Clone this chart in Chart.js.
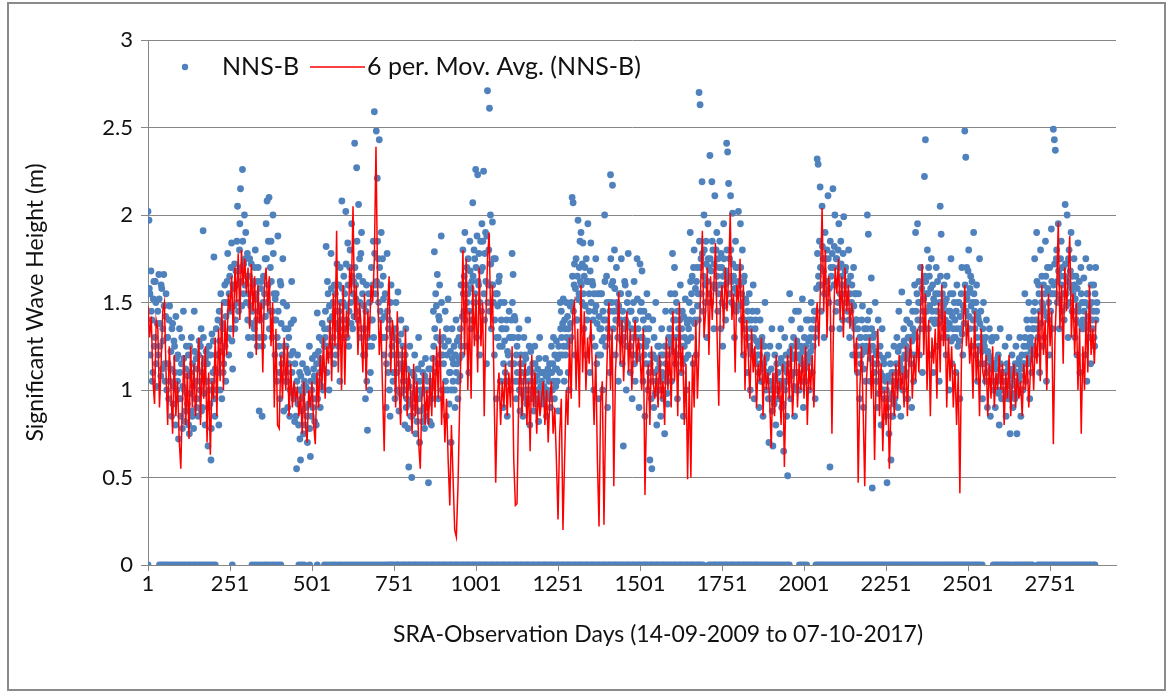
<!DOCTYPE html>
<html><head><meta charset="utf-8">
<script src="https://cdn.jsdelivr.net/npm/chart.js@4/dist/chart.umd.min.js"></script>
<style>html,body{margin:0;padding:0;background:#fff;}#wrap{position:relative;width:1173px;height:694px;}</style>
</head><body><div id="wrap"><canvas id="c" width="1173" height="694"></canvas></div>
<script>
// ---- data ----
const seriesNames = ['NNS-B', '6 per. Mov. Avg. (NNS-B)'];
const xTitle = 'SRA-Observation Days (14-09-2009 to 07-10-2017)';
const yTitle = 'Significant Wave Height (m)';
const xTickLabels = [1, 251, 501, 751, 1001, 1251, 1501, 1751, 2001, 2251, 2501, 2751];
const yTickValues = [0, 0.5, 1, 1.5, 2, 2.5, 3];
const xAxisEnd = 2952;
const nnsStep = 3;   // readings listed every 3 observation days
const maStep = 5;    // moving-average read every 5 observation days

// NNS-B readings on days 1, 4, 7, ...
const nnsB = [
2.02,1.97,1.55,1.68,1.40,1.10,1.62,1.30,1.50,1.02,
1.45,1.66,1.25,1.08,1.58,1.35,1.66,1.15,1.42,1.00,
1.30,0.95,1.48,1.12,0.85,1.38,1.02,1.25,0.80,1.18,
1.05,0.72,1.35,0.95,1.15,0.78,1.45,1.00,0.88,1.25,
0.92,1.20,0.75,1.10,1.30,0.85,1.02,1.45,0.95,1.18,
1.12,0.85,1.28,1.00,1.35,0.90,1.91,1.15,0.80,1.22,
1.05,0.68,1.25,0.92,0.60,1.32,1.10,1.76,0.85,1.20,
1.00,1.40,0.80,1.28,1.55,0.95,1.35,1.15,1.60,1.05,
1.50,1.78,1.20,1.65,1.35,1.84,1.12,1.58,1.72,1.40,
1.60,2.05,1.45,1.80,2.15,1.70,2.26,1.55,2.00,1.75,
1.50,1.78,1.30,1.65,1.20,1.72,1.45,1.62,1.35,1.80,
1.55,1.25,1.70,0.88,1.40,1.62,0.85,1.50,1.30,1.75,
1.95,2.08,1.60,2.10,1.45,1.85,1.30,2.00,1.55,1.20,
1.40,1.05,1.88,1.25,0.95,1.60,1.15,1.75,0.88,1.35,
1.10,1.48,0.90,1.30,0.85,1.20,1.62,0.98,1.40,0.82,
1.00,0.55,1.20,0.80,1.10,0.60,0.95,1.15,0.75,1.05,
0.90,1.12,0.70,1.00,1.25,0.62,0.85,1.18,0.95,1.08,
1.20,0.80,1.44,1.05,1.30,0.90,1.15,1.38,1.00,1.25,
1.30,1.82,1.10,1.55,1.00,1.40,1.78,1.25,1.50,1.15,
1.45,1.20,1.72,1.35,1.60,1.05,1.50,2.08,1.30,1.65,
1.55,2.02,1.40,1.84,1.25,1.70,1.50,1.95,1.35,1.62,
2.41,1.60,2.27,1.45,2.06,1.75,1.30,1.90,1.55,1.20,
1.35,0.95,1.60,0.77,1.25,1.50,1.10,1.70,1.40,1.85,
2.59,1.60,2.48,2.21,1.75,2.43,1.45,1.90,1.30,1.65,
1.20,1.55,0.90,1.78,1.10,1.40,0.85,1.60,1.25,1.05,
1.30,0.95,1.50,1.10,1.56,0.88,1.20,1.40,1.00,1.25,
1.15,0.80,1.35,0.95,1.05,0.56,1.25,0.85,0.50,1.10,
0.95,1.20,0.75,1.05,0.88,1.30,0.70,1.00,1.15,0.82,
1.00,0.78,1.18,0.90,1.05,0.47,0.95,1.12,0.80,1.02,
1.45,1.79,1.10,1.48,1.66,0.95,1.40,1.20,1.88,1.00,
1.30,1.00,1.45,0.85,1.20,1.52,0.92,1.10,0.70,1.35,
1.05,1.25,0.90,1.40,1.15,0.95,1.30,1.08,1.60,1.20,
1.80,1.45,1.90,1.25,1.70,1.55,1.10,1.85,1.35,1.62,
2.07,1.50,1.75,2.26,1.30,2.23,1.60,1.20,1.85,1.45,
1.70,2.25,1.40,1.90,1.15,2.71,1.60,2.61,2.00,1.35,
1.96,1.50,1.20,1.75,0.95,1.55,1.30,1.65,1.05,1.40,
1.25,0.90,1.50,1.10,1.35,0.85,1.20,1.45,1.00,1.30,
1.78,1.66,1.15,1.40,0.95,1.25,1.05,1.35,0.88,1.20,
1.10,0.85,1.30,1.00,1.18,0.92,1.40,1.05,0.80,1.22,
1.00,1.15,0.88,1.25,1.05,0.95,1.12,0.82,1.30,1.02,
1.05,0.92,1.10,1.00,1.18,0.85,1.08,0.98,1.15,0.90,
1.25,1.00,1.30,0.95,1.12,1.28,1.05,0.88,1.20,1.50,
1.45,1.20,1.52,1.05,1.35,1.50,1.25,1.10,1.00,1.48,
1.30,2.10,2.07,1.60,1.20,1.75,1.40,1.97,1.55,1.85,
1.90,1.50,1.84,1.35,1.70,1.20,1.62,1.95,1.45,1.10,
1.84,1.30,1.60,1.00,1.45,1.75,1.15,1.55,0.95,1.35,
1.20,1.55,1.00,1.40,2.00,1.25,1.65,0.90,1.50,1.10,
2.23,1.60,2.17,1.35,1.80,1.20,1.70,1.45,1.05,1.55,
1.40,1.75,1.15,0.68,1.30,1.60,1.00,1.50,1.78,1.25,
1.10,1.45,0.95,1.30,1.62,1.05,1.20,1.75,1.35,0.90,
1.72,1.30,1.68,1.05,1.45,0.85,1.25,1.55,1.00,1.35,
0.60,1.20,0.55,1.40,0.90,1.10,1.50,0.80,1.25,1.00,
1.15,0.85,1.35,1.00,1.20,0.75,1.45,1.05,0.92,1.30,
1.25,1.55,1.05,1.78,1.40,1.70,1.15,1.50,0.95,1.35,
1.30,1.60,1.10,1.45,0.85,1.25,1.52,1.00,1.38,1.20,
1.50,1.90,1.30,1.65,1.15,1.80,1.40,1.20,1.70,1.55,
2.70,2.63,1.75,2.19,1.45,2.00,1.60,1.85,1.30,1.95,
1.70,2.34,1.50,2.19,1.80,1.35,2.11,1.60,1.90,1.45,
1.55,1.85,1.35,1.70,1.25,1.95,1.60,1.40,2.41,2.36,
2.18,1.75,2.11,1.50,2.01,1.65,1.30,1.85,1.45,1.70,
2.02,1.60,1.95,1.40,1.80,1.20,1.65,1.35,1.50,1.10,
1.30,1.55,1.00,1.40,1.20,1.60,0.95,1.35,1.15,1.45,
1.25,0.90,1.40,1.05,1.30,0.85,1.15,1.50,1.00,1.20,
1.10,0.70,1.25,0.95,1.35,0.68,1.05,1.20,0.80,1.15,
1.00,1.25,0.75,1.35,0.90,1.15,0.65,1.30,1.05,0.85,
0.51,1.20,1.55,0.95,1.40,1.10,1.30,0.85,1.45,1.00,
1.25,1.45,1.00,1.35,1.15,1.52,0.90,1.30,1.05,1.40,
1.20,1.40,1.00,1.30,1.50,1.10,1.25,1.45,0.95,1.35,
2.32,2.29,1.60,2.16,1.45,2.05,1.75,1.30,1.90,1.55,
1.80,2.11,1.50,0.56,1.70,1.35,2.15,1.60,2.00,1.45,
1.75,1.50,1.95,1.35,1.85,1.60,1.40,1.99,1.55,1.70,
1.60,1.45,1.80,1.30,1.65,1.50,1.20,1.70,1.35,1.55,
1.40,1.10,1.55,0.95,1.30,1.20,1.48,0.90,1.35,1.05,
1.25,2.00,1.89,1.45,1.05,1.64,0.44,1.30,1.10,1.50,
1.20,0.90,1.40,1.05,1.25,0.80,1.35,1.00,1.15,0.85,
0.95,0.47,1.20,0.75,1.05,0.60,1.10,0.85,1.25,0.95,
1.05,1.30,0.90,1.45,1.15,0.85,1.56,1.00,1.35,1.20,
1.10,1.40,0.95,1.50,1.20,1.30,0.90,1.45,1.05,1.60,
1.90,1.30,1.95,1.50,1.20,1.70,1.40,1.10,1.62,2.22,
2.43,1.55,1.80,1.35,1.65,1.20,1.75,1.45,1.10,1.50,
1.40,1.70,1.25,1.55,1.05,2.05,1.89,1.45,1.30,1.60,
1.50,1.20,1.65,1.35,1.00,1.45,1.75,1.15,1.55,1.30,
1.40,1.10,1.60,1.25,1.50,0.95,1.35,1.70,1.20,1.45,
2.48,2.33,1.70,1.55,1.80,1.35,1.65,1.25,1.50,1.90,
1.45,1.20,1.60,1.05,1.40,1.75,1.15,1.30,0.95,1.50,
1.25,1.05,1.40,0.90,1.20,1.35,0.85,1.15,1.30,1.00,
1.15,0.90,1.30,1.05,1.20,0.80,1.35,1.00,1.10,0.95,
1.05,1.25,0.85,1.15,0.95,1.30,0.75,1.10,1.20,0.90,
1.10,0.95,1.25,0.75,1.15,1.05,1.30,0.85,1.20,1.00,
1.25,1.55,1.05,1.40,1.15,1.50,0.95,1.30,1.10,1.35,
1.45,1.75,1.20,1.90,1.35,1.60,1.10,1.80,1.50,1.25,
1.60,1.30,1.85,1.05,1.70,1.40,1.20,1.55,1.92,1.35,
2.49,2.43,2.37,1.75,1.50,1.95,1.35,1.65,1.85,1.45,
1.70,1.40,2.06,1.55,2.00,1.30,1.80,1.60,1.90,1.45,
1.55,1.75,1.30,1.65,1.20,1.84,1.45,1.10,1.70,1.35,
1.40,1.64,1.20,1.75,1.05,1.55,1.30,1.70,1.15,1.50,
1.35,1.60,1.25,1.70,1.45
];

// NNS-B readings on days 2, 5, 8, ...
const nnsBMid = [
1.35,1.58,1.20,1.45,1.05,1.52,1.25,1.62,1.15,1.38,
1.20,1.52,1.38,1.60,1.12,1.28,1.48,1.05,1.55,1.30,
1.15,1.40,1.05,1.22,1.35,0.92,1.28,1.10,1.42,1.00,
1.20,0.95,1.10,0.85,1.30,1.02,1.18,0.82,1.12,0.98,
1.08,0.80,1.25,0.98,0.88,1.15,0.78,1.22,1.05,0.90,
0.95,1.20,1.05,1.25,0.88,1.10,1.30,0.98,1.18,1.05,
1.15,0.90,1.00,1.20,0.78,1.05,1.28,0.95,1.12,1.35,
1.20,1.10,1.45,1.00,1.22,1.38,1.10,1.50,1.25,1.42,
1.62,1.30,1.55,1.45,1.70,1.28,1.60,1.48,1.35,1.68,
1.85,1.50,1.68,1.95,1.62,1.48,1.85,1.72,1.60,1.90,
1.65,1.40,1.55,1.75,1.48,1.38,1.60,1.30,1.70,1.52,
1.40,1.62,1.45,1.30,1.58,1.48,1.25,1.65,1.55,1.42,
1.75,1.50,1.85,1.35,1.70,1.62,1.45,1.78,1.40,1.52,
1.55,1.30,1.45,1.10,1.62,1.38,1.20,1.50,1.25,1.05,
1.25,1.05,1.35,1.15,1.00,1.38,1.10,1.22,0.95,1.15,
0.85,1.05,0.92,1.00,0.72,1.08,0.88,0.98,1.02,0.80,
1.02,0.85,1.10,0.92,0.78,1.05,1.00,0.90,1.12,0.82,
1.05,1.15,0.95,1.22,1.10,1.18,1.02,1.28,1.12,1.35,
1.45,1.25,1.62,1.35,1.48,1.20,1.58,1.42,1.30,1.60,
1.55,1.38,1.60,1.25,1.45,1.70,1.40,1.58,1.50,1.35,
1.48,1.72,1.30,1.60,1.45,1.80,1.38,1.65,1.55,1.42,
1.70,1.52,1.85,1.40,1.65,1.50,1.78,1.35,1.62,1.48,
1.20,1.45,1.05,1.30,1.55,1.00,1.40,1.25,1.60,1.30,
1.78,1.55,1.62,1.85,1.50,1.70,1.60,1.40,1.75,1.52,
1.42,1.30,1.15,1.45,1.35,1.00,1.50,1.20,1.32,1.10,
1.10,1.35,1.20,1.00,1.28,1.15,0.98,1.32,1.12,1.05,
1.00,1.20,0.90,1.12,0.78,1.02,0.92,1.10,0.85,0.98,
1.08,0.90,1.00,0.82,1.12,0.95,1.05,0.88,0.98,1.10,
0.90,1.08,0.85,1.00,0.92,1.12,0.82,1.05,0.95,1.18,
1.25,1.35,1.55,1.30,1.15,1.42,1.60,1.28,1.50,1.20,
1.15,1.25,1.05,1.35,1.00,1.28,1.10,1.22,1.00,1.18,
1.15,1.00,1.20,1.10,1.28,1.05,1.18,1.35,1.25,1.42,
1.55,1.65,1.40,1.60,1.50,1.75,1.45,1.68,1.58,1.40,
1.65,1.80,1.55,1.70,1.88,1.62,1.78,1.50,1.68,1.95,
1.85,1.55,1.78,1.62,1.88,1.50,1.80,1.45,1.72,1.60,
1.60,1.75,1.40,1.55,1.30,1.48,1.62,1.25,1.50,1.35,
1.35,1.15,1.28,1.05,1.40,1.22,1.05,1.30,1.15,1.40,
1.50,1.30,1.42,1.05,1.20,1.10,1.30,1.00,1.15,1.05,
0.98,1.15,1.05,1.20,0.95,1.10,1.00,1.25,1.12,0.95,
1.10,0.98,1.05,1.15,0.92,1.08,1.00,1.18,0.95,1.10,
0.98,1.10,1.02,0.95,1.08,1.00,1.12,1.05,0.95,1.10,
1.10,1.15,1.05,1.20,1.02,1.12,1.18,1.25,1.10,1.35,
1.30,1.38,1.25,1.40,1.20,1.30,1.42,1.35,1.28,1.38,
1.50,1.65,1.45,1.72,1.58,1.40,1.65,1.52,1.70,1.62,
1.60,1.72,1.55,1.65,1.48,1.75,1.40,1.62,1.55,1.68,
1.50,1.62,1.40,1.55,1.25,1.48,1.38,1.20,1.42,1.55,
1.35,1.28,1.45,1.30,1.62,1.40,1.50,1.35,1.30,1.45,
1.75,1.50,1.62,1.45,1.58,1.40,1.50,1.30,1.48,1.38,
1.55,1.28,1.45,1.35,1.62,1.40,1.25,1.38,1.55,1.45,
1.25,1.35,1.20,1.50,1.15,1.40,1.30,1.52,1.18,1.25,
1.45,1.50,1.30,1.40,1.20,1.35,1.15,1.28,1.42,1.10,
1.15,0.95,1.05,1.20,1.30,0.98,1.18,1.05,1.12,1.25,
1.05,1.20,1.10,0.95,1.08,1.25,1.15,0.98,1.20,1.10,
1.35,1.28,1.45,1.30,1.22,1.55,1.40,1.30,1.45,1.20,
1.40,1.25,1.35,1.15,1.42,1.30,1.18,1.40,1.28,1.35,
1.40,1.62,1.55,1.45,1.70,1.38,1.58,1.62,1.48,1.40,
1.85,1.70,1.55,1.78,1.65,1.80,1.50,1.72,1.62,1.75,
1.55,1.75,1.68,1.85,1.60,1.72,1.58,1.80,1.65,1.75,
1.70,1.60,1.78,1.50,1.65,1.75,1.48,1.68,1.80,1.62,
1.65,1.55,1.80,1.62,1.72,1.48,1.58,1.70,1.55,1.62,
1.60,1.48,1.70,1.55,1.50,1.62,1.40,1.52,1.30,1.45,
1.40,1.25,1.35,1.22,1.45,1.30,1.18,1.40,1.28,1.20,
1.10,1.20,1.15,1.28,1.05,1.12,1.25,1.08,1.18,1.10,
0.95,1.05,1.00,1.12,0.88,1.02,0.92,1.08,1.00,0.95,
1.10,0.95,1.05,1.18,1.02,0.92,1.12,1.00,1.20,1.10,
1.05,1.15,1.22,1.08,1.25,1.18,1.02,1.20,1.10,1.28,
1.10,1.20,1.18,1.25,1.05,1.22,1.15,1.12,1.25,1.18,
1.15,1.28,1.18,1.22,1.35,1.25,1.40,1.30,1.45,1.58,
1.78,1.65,1.85,1.70,1.60,1.82,1.68,1.55,1.75,1.62,
1.62,1.75,1.58,1.85,1.65,1.78,1.70,1.82,1.60,1.75,
1.62,1.80,1.70,1.55,1.72,1.65,1.78,1.60,1.68,1.50,
1.50,1.62,1.40,1.55,1.45,1.60,1.38,1.48,1.55,1.40,
1.25,1.35,1.20,1.30,1.15,1.40,1.25,1.12,1.22,1.30,
1.35,1.40,1.22,1.30,1.18,1.35,1.25,1.15,1.32,1.22,
1.05,1.15,0.98,1.20,1.10,1.00,1.08,1.18,0.95,1.05,
1.00,0.90,1.08,0.95,1.15,0.85,0.98,1.05,0.92,1.10,
1.15,1.02,1.22,1.10,1.25,1.05,1.18,1.12,1.28,1.08,
1.25,1.18,1.30,1.22,1.38,1.15,1.28,1.35,1.20,1.32,
1.45,1.55,1.40,1.62,1.50,1.35,1.58,1.45,1.52,1.65,
1.62,1.45,1.55,1.70,1.48,1.58,1.40,1.60,1.52,1.38,
1.55,1.45,1.62,1.38,1.50,1.65,1.42,1.55,1.48,1.35,
1.40,1.52,1.30,1.45,1.38,1.55,1.28,1.42,1.35,1.50,
1.30,1.45,1.35,1.50,1.28,1.42,1.55,1.32,1.48,1.38,
1.60,1.45,1.52,1.68,1.42,1.58,1.48,1.62,1.40,1.55,
1.35,1.50,1.30,1.42,1.25,1.38,1.45,1.22,1.35,1.28,
1.15,1.30,1.10,1.22,1.05,1.18,1.12,1.28,1.05,1.15,
1.05,1.12,1.00,1.18,0.98,1.08,1.15,0.95,1.05,1.10,
1.00,1.10,0.98,1.05,1.12,0.95,1.02,1.08,0.98,1.12,
1.05,1.15,1.02,1.10,0.98,1.18,1.08,1.12,1.00,1.15,
1.15,1.30,1.20,1.25,1.35,1.18,1.28,1.22,1.40,1.25,
1.35,1.50,1.40,1.62,1.30,1.55,1.45,1.38,1.65,1.48,
1.45,1.55,1.65,1.42,1.58,1.50,1.70,1.45,1.62,1.55,
1.60,1.72,1.55,1.80,1.62,1.68,1.52,1.75,1.60,1.70,
1.55,1.65,1.72,1.48,1.62,1.75,1.50,1.68,1.58,1.65,
1.45,1.60,1.52,1.40,1.58,1.48,1.62,1.38,1.55,1.50,
1.35,1.45,1.50,1.38,1.55,1.42,1.48,1.35,1.60,1.40,
1.45,1.30,1.55,1.40,1.50
];

// days on which NNS-B recorded 0
const zeroDays = [
1,36,43,50,57,64,71,79,86,94,101,109,116,124,131,139,146,154,161,169,176,184,191,199,206,258,
318,327,336,346,356,364,372,381,389,398,406,461,469,477,494,517,539,547,556,565,573,582,590,599,
607,616,624,633,641,650,658,667,675,684,692,701,709,718,726,
733,739,744,750,757,762,768,775,780,786,793,798,804,811,816,822,829,834,840,847,852,858,865,870,
876,883,888,894,901,906,912,919,924,930,937,942,948,955,960,966,973,978,984,991,996,1002,1009,
1014,1020,1027,1032,1038,1045,1050,1056,1063,1068,1074,1081,1086,1092,1099,1104,1110,1117,1122,
1128,1135,1140,1146,1153,1158,1164,1171,1176,1182,1189,1194,1200,1207,1212,1218,1225,1230,1236,
1243,1248,1254,1261,1266,1272,1279,1284,1290,1297,1302,1308,1315,1320,1326,1333,1338,1344,1351,
1356,1362,1369,1374,1380,1387,1392,1398,1405,1410,1416,1423,1428,1434,1441,1446,1452,1459,1464,
1470,1477,1482,1488,1495,1500,1506,1513,1518,1524,1531,1536,1542,1549,1554,1560,1567,1572,1578,
1585,1590,1596,1603,1608,1614,1621,1626,1632,1639,1644,1650,1657,1662,1668,1675,1680,1686,1693,
1711,1717,1724,1729,1735,1742,1747,1753,1760,1765,1771,1778,1783,1789,1796,1801,1807,1814,1819,
1825,1832,1837,1843,1850,1855,1861,1868,1875,1882,1889,1896,1903,1911,1918,1926,1934,1941,1949,
1956,1987,1994,2001,2009,2037,2044,2050,2057,2063,2070,2076,2083,2089,2096,2102,2109,2115,2122,
2128,2135,2141,2148,2154,2161,2167,2174,2180,2187,2193,2200,2206,2213,2219,2226,2232,2239,2245,
2251,2258,2264,2271,2277,2284,2290,2297,2303,2310,2316,2323,2329,2336,2342,2349,2355,2362,2368,
2375,2381,2388,2394,2401,2407,2414,2420,2427,2433,2440,2446,2453,2459,2466,2472,2479,2485,2492,
2498,2505,2511,2518,2524,2531,2537,2544,2578,2585,2591,2598,2604,2611,2617,2624,2630,2639,2646,
2652,2659,2665,2672,2678,2685,2691,2697,2714,2720,2727,2733,2740,2746,2753,2759,2766,2772,2779,
2785,2792,2798,2805,2811,2818,2824,2831,2837,2844,2850,2857,2863,2870,2876,2883,2888
];

// 6-period moving average, read every 5 days from day 1
const movAvg = [
1.48,1.30,1.42,1.05,0.92,1.40,1.35,0.90,1.15,1.45,
1.50,1.10,0.80,1.25,1.00,0.75,1.20,0.85,1.05,0.72,
0.55,0.95,1.20,0.80,1.10,0.72,1.25,0.90,1.15,0.85,
1.05,1.30,0.80,1.20,0.95,1.25,0.70,1.10,0.63,1.05,
0.95,1.30,0.85,1.35,1.05,1.50,1.00,1.40,1.20,1.55,
1.45,1.65,1.30,1.70,1.50,1.78,1.40,1.80,1.60,1.75,
1.55,1.70,1.35,1.72,1.45,1.65,1.20,1.60,1.38,1.50,
1.10,1.60,1.70,1.45,1.65,1.25,1.50,0.90,1.35,0.80,
0.78,1.20,0.95,1.30,1.00,1.25,0.85,1.15,0.90,1.05,
0.95,1.00,0.85,0.98,0.75,1.05,0.80,0.70,1.00,0.90,
1.05,0.80,0.69,1.10,0.90,1.20,1.00,1.30,0.95,1.25,
1.15,1.40,1.05,1.55,1.25,1.91,1.10,1.50,1.00,1.60,
1.03,1.45,1.30,1.70,1.55,2.05,1.40,1.60,1.20,1.50,
1.35,1.10,1.55,1.00,1.45,1.30,1.60,1.50,1.75,2.39,
1.60,1.20,1.40,1.00,0.65,1.15,1.45,1.65,1.10,1.40,
1.30,0.90,1.45,1.05,0.80,1.25,0.95,1.35,0.85,1.10,
1.00,0.75,1.15,0.85,1.05,0.70,0.55,0.95,1.10,0.80,
1.00,0.80,1.10,0.85,1.20,0.90,1.25,0.95,1.35,0.80,
1.05,0.70,0.95,0.60,0.34,0.80,0.50,0.20,0.16,0.45,
0.90,1.30,1.80,1.20,1.75,1.00,1.45,0.95,1.60,1.25,
1.55,1.10,1.70,1.25,1.50,0.85,1.40,1.75,1.90,1.35,
1.60,1.00,0.47,0.95,1.10,0.80,1.05,0.90,1.15,0.85,
1.10,0.90,1.25,0.60,0.34,0.35,0.95,1.20,0.85,1.05,
1.15,0.80,1.05,0.65,1.20,0.90,1.10,0.75,1.00,0.85,
0.95,1.05,0.80,1.00,0.70,0.95,1.05,0.75,0.90,0.60,
0.26,0.75,0.95,0.20,0.60,1.00,0.80,1.30,0.95,1.45,
1.50,1.00,1.35,0.90,1.60,1.10,1.45,1.00,1.30,1.15,
1.40,1.10,0.80,1.20,0.60,0.22,0.95,1.05,0.23,0.85,
1.20,1.50,1.00,1.35,0.45,1.10,1.30,1.56,1.15,1.40,
1.05,1.30,1.45,1.10,1.35,1.00,1.25,1.40,1.15,1.30,
1.20,1.00,1.35,0.40,0.90,1.15,0.80,1.25,1.05,0.95,
1.10,0.90,1.20,0.95,1.05,0.80,1.30,1.00,1.25,0.90,
1.45,1.05,1.30,0.85,1.50,1.10,1.25,0.80,1.15,0.49,
1.05,0.50,1.20,0.90,1.40,0.95,1.25,1.60,1.91,1.30,
1.45,1.70,1.20,1.65,1.40,1.60,1.84,1.30,0.91,1.50,
1.60,1.35,1.70,1.45,1.65,2.01,1.40,1.55,1.10,1.60,
1.50,1.75,1.20,1.60,1.00,1.40,1.20,0.95,1.35,1.10,
1.25,0.90,1.15,1.05,1.30,0.85,1.20,1.00,1.10,0.95,
0.67,1.10,0.85,1.20,0.95,1.05,0.80,1.15,0.56,1.00,
1.20,0.95,1.25,0.85,1.10,1.30,0.90,1.15,1.00,1.20,
0.95,1.25,0.80,1.15,1.00,1.20,0.90,1.35,1.50,1.25,
1.60,2.04,1.45,1.80,1.30,1.65,1.50,0.75,1.40,1.70,
1.55,1.75,1.40,1.65,1.30,1.70,1.45,1.60,1.35,1.50,
1.40,1.10,1.30,0.47,1.00,1.25,0.90,0.45,1.05,1.20,
1.30,0.95,1.20,0.60,1.10,1.35,0.85,1.15,0.65,1.00,
0.80,1.05,0.55,0.90,1.10,0.85,1.15,0.95,1.20,1.00,
1.10,0.90,1.25,0.85,1.15,1.30,0.95,1.20,1.05,1.35,
1.10,1.45,1.72,1.20,1.55,1.00,1.40,0.85,1.30,1.15,
1.35,0.95,1.50,1.10,1.60,1.25,1.45,0.90,1.30,1.05,
1.25,0.90,1.15,0.80,1.10,0.41,1.20,1.35,1.60,1.25,
1.40,1.15,1.30,0.95,1.45,1.05,1.25,0.85,1.35,1.10,
1.05,1.20,0.85,1.15,0.95,1.25,0.90,1.10,1.00,1.20,
1.00,1.15,0.80,1.10,0.95,1.20,0.85,1.05,1.15,0.90,
1.10,0.95,1.05,0.85,1.15,1.00,1.20,0.90,1.10,1.25,
1.00,1.30,1.15,1.45,1.05,1.60,1.20,1.40,1.00,1.55,
1.25,1.45,0.69,1.30,1.55,1.96,1.35,1.60,1.15,1.70,
1.45,1.65,1.88,1.30,1.55,1.20,1.50,1.00,1.35,0.75,
1.25,1.00,1.45,1.10,1.60,1.20,1.35,1.15,1.40
];

// ---- build library data ----
const nnsPoints = nnsB.map((v, i) => ({x: 1 + i * nnsStep, y: v}))
  .concat(nnsBMid.map((v, i) => ({x: 2 + i * nnsStep, y: v})))
  .concat(zeroDays.map(d => ({x: d, y: 0})));
const maPoints = movAvg.map((v, i) => ({x: 1 + i * maStep, y: v}));

const FONT = 'Lato';
const TXT = '#111111';

const framePlugin = {
  id: 'frame',
  beforeDraw(chart) {
    const c = chart.ctx;
    c.save();
    c.fillStyle = '#ffffff';
    c.fillRect(0, 0, chart.width, chart.height);
    c.strokeStyle = '#8a8a8a';
    c.lineWidth = 2;
    c.strokeRect(8, 3, 1157, 687);
    c.restore();
  }
};

const legendPlugin = {
  id: 'excelLegend',
  afterDraw(chart) {
    const c = chart.ctx;
    const ds = chart.data.datasets;
    const y = 67;
    c.save();
    c.font = '25px ' + FONT;
    c.textBaseline = 'middle';
    c.fillStyle = ds[0].backgroundColor;
    c.beginPath();
    c.arc(185, y, 3.2, 0, Math.PI * 2);
    c.fill();
    c.fillStyle = TXT;
    c.fillText(ds[0].label, 222, y);
    c.strokeStyle = ds[1].borderColor;
    c.lineWidth = 1.5;
    c.beginPath(); c.moveTo(310, y); c.lineTo(365, y); c.stroke();
    c.fillText(ds[1].label, 367, y);
    c.restore();
  }
};

const xTitlePlugin = {
  id: 'xTitle',
  afterDraw(chart) {
    const c = chart.ctx;
    c.save();
    c.font = '23px ' + FONT;
    c.fillStyle = TXT;
    c.textAlign = 'center';
    c.textBaseline = 'middle';
    c.fillText(xTitle, 658, 635);
    c.restore();
  }
};

new Chart(document.getElementById('c'), {
  type: 'scatter',
  data: {
    datasets: [
      {
        label: seriesNames[0], data: nnsPoints,
        backgroundColor: '#4F81BD', borderColor: '#4F81BD', borderWidth: 0,
        pointStyle: 'circle', pointRadius: 3.4, pointHoverRadius: 3.4, order: 2
      },
      {
        label: seriesNames[1], type: 'line', data: maPoints,
        borderColor: '#FF0000', borderWidth: 1.5, pointRadius: 0, pointHoverRadius: 0,
        fill: false, tension: 0, showLine: true, order: 1
      }
    ]
  },
  options: {
    responsive: false, animation: false, devicePixelRatio: 1,
    layout: {padding: {top: 40, right: 57, left: 0, bottom: 0}},
    plugins: {legend: {display: false}, tooltip: {enabled: false}},
    scales: {
      x: {
        type: 'linear', min: 1, max: xAxisEnd,
        afterBuildTicks: s => { s.ticks = xTickLabels.map(v => ({value: v})); },
        afterFit: s => { s.height = 129; },
        ticks: {font: {family: FONT, size: 22}, color: TXT, maxRotation: 0, autoSkip: false, padding: 0,
                callback: v => String(v)},
        grid: {drawOnChartArea: false, drawTicks: true, tickLength: 6, color: '#868686'},
        border: {color: '#868686', width: 1}
      },
      y: {
        min: 0, max: 3,
        afterBuildTicks: s => { s.ticks = yTickValues.map(v => ({value: v})); },
        afterFit: s => { s.width = 148; },
        ticks: {font: {family: FONT, size: 22}, color: TXT, padding: 8, callback: v => String(v)},
        grid: {color: '#868686', tickLength: 7},
        border: {color: '#868686', width: 1},
        title: {display: true, text: yTitle, font: {family: FONT, size: 23}, color: TXT,
                padding: {top: 22, bottom: 0}}
      }
    }
  },
  plugins: [framePlugin, legendPlugin, xTitlePlugin]
});
</script>
</body></html>
